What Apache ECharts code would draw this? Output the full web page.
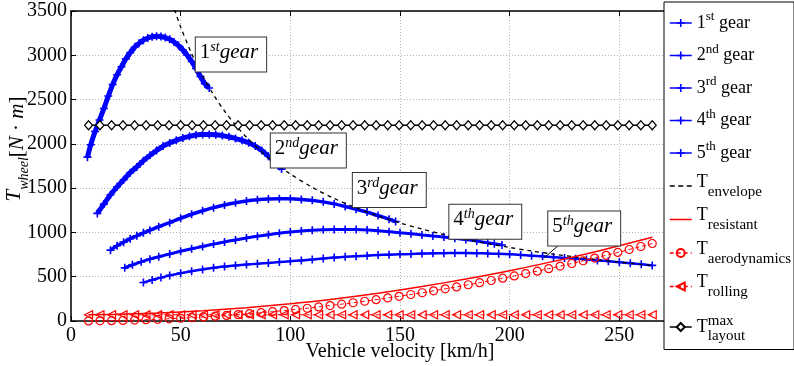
<!DOCTYPE html>
<html>
<head>
<meta charset="utf-8">
<script src="https://cdn.jsdelivr.net/npm/echarts@6/dist/echarts.min.js"></script>
<style>
html, body { margin: 0; padding: 0; background: #fff; }
#draw { width: 794px; height: 366px; }
</style>
</head>
<body>
<div id="draw"></div>
<script>
// wheel torque per gear, [km/h, N.m]
var gear1 = [[7.5,1850],[9,1990],[11,2140],[13,2270],[15,2400],[17,2540],[19,2670],[21,2780],[23,2870],[25,2960],[27,3030],[29,3090],[31,3135],[33,3170],[35,3195],[37,3210],[39,3215],[41,3212],[43,3200],[45,3180],[47,3150],[49,3110],[51,3060],[53,3000],[55,2930],[57,2850],[59,2760],[61,2680],[63,2630]];
var gear2 = [[12,1215],[15,1320],[18,1425],[21,1515],[24,1595],[27,1675],[30,1740],[33,1810],[36,1870],[39,1925],[42,1975],[45,2010],[48,2040],[51,2065],[54,2085],[57,2100],[60,2105],[63,2107],[66,2103],[69,2093],[72,2080],[75,2060],[78,2040],[81,2012],[84,1975],[87,1925],[90,1860],[93,1790],[96,1715]];
var gear3 = [[18,800],[21,850],[24,890],[27,930],[30,962],[33,995],[36,1025],[40,1065],[45,1110],[50,1160],[55,1205],[60,1245],[65,1280],[70,1310],[75,1335],[80,1355],[85,1368],[90,1377],[95,1381],[100,1380],[105,1373],[110,1362],[115,1345],[120,1322],[125,1293],[130,1262],[135,1230],[140,1190],[145,1150],[148,1122]];
var gear4 = [[24.5,600],[28,635],[32,668],[36,698],[40,725],[45,757],[50,787],[55,815],[60,842],[65,868],[70,893],[75,915],[80,937],[85,957],[90,975],[95,991],[100,1004],[105,1015],[110,1024],[115,1030],[120,1033],[125,1034],[130,1032],[135,1027],[140,1019],[145,1009],[150,997],[155,985],[160,972],[165,960],[170,948],[175,934],[180,919],[185,902],[190,884],[193,872],[196.5,858]];
var gear5 = [[33,435],[37,462],[41,490],[45,515],[50,540],[55,562],[60,582],[65,600],[70,614],[75,626],[80,637],[85,647],[90,656],[95,665],[100,674],[105,684],[110,695],[115,706],[120,716],[125,725],[130,732],[135,738],[140,744],[145,749],[150,753],[155,757],[160,761],[165,764],[170,766],[175,767],[180,767],[185,765],[190,762],[195,758],[200,753],[205,746],[210,738],[215,730],[220,721],[225,712],[230,703],[235,694],[240,684],[245,674],[250,664],[255,653],[260,641],[265,628]];
var envelope = [[45,3690],[47.5,3495],[50,3320],[55,3018],[60,2767],[65,2554],[70,2371],[75,2213],[80,2075],[90,1844],[100,1660],[110,1509],[120,1383],[130,1277],[140,1186],[150,1107],[160,1038],[170,976],[180,922],[190,874],[200,830],[210,790],[220,755],[230,722],[240,692],[250,664],[265,626]];

// resistances
var resistSpeed = [8, 20, 40, 60, 80, 100, 120, 140, 160, 180, 200, 220, 240, 265];
var resistTorque = [71, 75, 90, 115, 150, 195, 249, 314, 389, 474, 568, 673, 788, 945];
var speeds = [8, 13.2, 18.5, 23.7, 29, 34.2, 39.5, 44.7, 50, 55.2, 60.4, 65.7, 70.9, 76.2, 81.4, 86.7, 91.9, 97.2, 102.4, 107.7, 112.9, 118.1, 123.4, 128.6, 133.9, 139.1, 144.4, 149.6, 154.9, 160.1, 165.3, 170.6, 175.8, 181.1, 186.3, 191.6, 196.8, 202.1, 207.3, 212.6, 217.8, 223, 228.3, 233.5, 238.8, 244, 249.3, 254.5, 259.8, 265];
var aeroTorque = [1, 2, 4, 7, 10, 15, 19, 25, 31, 38, 46, 54, 63, 72, 83, 94, 105, 118, 131, 144, 159, 174, 190, 206, 223, 241, 260, 279, 299, 319, 341, 363, 385, 409, 433, 457, 483, 509, 536, 563, 591, 620, 649, 680, 710, 742, 774, 807, 841, 875];
var rollingTorque = 70;
var layoutMaxTorque = 2210;

var xTicks = [0, 50, 100, 150, 200, 250, 300];
var yTicks = [0, 500, 1000, 1500, 2000, 2500, 3000, 3500];

var seriesNames = ['1st gear', '2nd gear', '3rd gear', '4th gear', '5th gear',
	'T envelope', 'T resistant', 'T aerodynamics', 'T rolling', 'T layout max'];
var legendText = {
	'1st gear' : '{n|1}{sup|st}{n| gear}',
	'2nd gear' : '{n|2}{sup|nd}{n| gear}',
	'3rd gear' : '{n|3}{sup|rd}{n| gear}',
	'4th gear' : '{n|4}{sup|th}{n| gear}',
	'5th gear' : '{n|5}{sup|th}{n| gear}',
	'T envelope' : '{T|T}{sub|envelope}',
	'T resistant' : '{T|T}{sub|resistant}',
	'T aerodynamics' : '{T|T}{sub|aerodynamics}',
	'T rolling' : '{T|T}{sub|rolling}',
	'T layout max' : '{T2|T}{supz|max}{sub2|layout}'
};

// text boxes, top-left corner in data units
var gearTags = [
	{ num : '1', sup : 'st', at : [56.9, 3202] },
	{ num : '2', sup : 'nd', at : [91.1, 2117] },
	{ num : '3', sup : 'rd', at : [128.5, 1671] },
	{ num : '4', sup : 'th', at : [172.5, 1312] },
	{ num : '5', sup : 'th', at : [217.6, 1236], from : [223, 870], to : [215.7, 712] }
];

var serif = 'Liberation Serif';
var blue = '#0000ff';
var red = '#ff0000';
var plus = 'path://M4,0h2v4h4v2h-4v4h-2v-4h-4v-2h4z';
var dashIcon = 'path://M0,4h5v1.5h-5zM8.5,4h5v1.5h-5zM17,4h5v1.5h-5z';
var solidIcon = 'path://M0,4h22v1.5h-22z';

function pairs(xs, ys) {
	return xs.map(function(x, i) {
		return [x, ys[i]];
	});
}

function gearSeries(name, data, width) {
	return {
		name : name,
		type : 'line',
		data : data,
		smooth : 0.3,
		symbol : plus,
		symbolSize : 8,
		lineStyle : { color : blue, width : width },
		itemStyle : { color : blue },
		z : 3
	};
}

var myChart = echarts.init(document.getElementById('draw'));

var option = {
	animation : false,
	textStyle : { fontFamily : serif, color : '#000' },
	grid : { left : 71, right : 65, top : 11, bottom : 45, containLabel : false, outerBoundsMode : 'none' },
	legend : {
		orient : 'vertical',
		left : 664,
		top : 2,
		itemWidth : 22,
		itemHeight : 10,
		itemGap : 6.5,
		padding : [8, 3, 2, 5],
		backgroundColor : '#fff',
		borderColor : '#000',
		borderWidth : 1,
		data : seriesNames.map(function(n) {
			if (n == 'T envelope') return { name : n, icon : dashIcon };
			if (n == 'T resistant') return { name : n, icon : solidIcon };
			return n;
		}),
		lineStyle : { width : 1.5 },
		formatter : function(name) {
			return legendText[name];
		},
		textStyle : {
			fontFamily : serif,
			color : '#000',
			rich : {
				n : { fontFamily : serif, fontSize : 18, lineHeight : 18, padding : [4, 0, 4, 0] },
				sup : { fontFamily : serif, fontSize : 13, lineHeight : 14, padding : [0, 0, 12, 0] },
				T : { fontFamily : serif, fontSize : 18, lineHeight : 18, padding : [0, 0, 8, 0] },
				sub : { fontFamily : serif, fontSize : 15, lineHeight : 14, padding : [12, 0, 0, 0] },
				T2 : { fontFamily : serif, fontSize : 18, lineHeight : 18, padding : [11, 0, 11, 0] },
				supz : { fontFamily : serif, fontSize : 15, lineHeight : 14, width : 0, padding : [7, 0, 19, 0] },
				sub2 : { fontFamily : serif, fontSize : 15, lineHeight : 14, padding : [22, 0, 4, 0] }
			}
		}
	},
	xAxis : [ {
		type : 'value',
		min : xTicks[0],
		max : xTicks[xTicks.length - 1],
		interval : 50,
		name : 'Vehicle velocity [km/h]',
		nameLocation : 'middle',
		nameGap : 21,
		nameMoveOverlap : false,
		nameTextStyle : { fontFamily : serif, fontSize : 20, color : '#000' },
		axisLine : { lineStyle : { color : '#000', width : 1.5 } },
		axisTick : { inside : true, length : 5, lineStyle : { color : '#000' } },
		axisLabel : { fontFamily : serif, fontSize : 20, color : '#000', margin : 5,
			formatter : function(v) { return String(v); } },
		splitLine : { show : true, lineStyle : { color : '#b4b4b4', type : [1, 2] } }
	}, {
		type : 'value',
		position : 'top',
		min : xTicks[0],
		max : xTicks[xTicks.length - 1],
		interval : 50,
		axisLine : { lineStyle : { color : '#000', width : 1.5 } },
		axisTick : { inside : true, length : 5, lineStyle : { color : '#000' } },
		axisLabel : { show : false },
		splitLine : { show : false }
	} ],
	yAxis : {
		type : 'value',
		min : yTicks[0],
		max : yTicks[yTicks.length - 1],
		interval : 500,
		name : '{t|T}{s|wheel}{r|[}{i|N}{r| · }{i|m}{r|]}',
		nameLocation : 'middle',
		nameRotate : 90,
		nameGap : 43,
		nameMoveOverlap : false,
		nameTextStyle : {
			padding : [0, 0, 0, 34],
			rich : {
				t : { fontFamily : serif, fontStyle : 'italic', fontSize : 21, lineHeight : 21, padding : [0, 0, 6, 0] },
				s : { fontFamily : serif, fontStyle : 'italic', fontSize : 14, lineHeight : 14, padding : [13, 0, 0, 0] },
				r : { fontFamily : serif, fontSize : 21, lineHeight : 21, padding : [3, 0, 3, 0] },
				i : { fontFamily : serif, fontStyle : 'italic', fontSize : 21, lineHeight : 21, padding : [3, 0, 3, 0] }
			}
		},
		axisLine : { show : true, lineStyle : { color : '#000', width : 1.5 } },
		axisTick : { show : true, inside : true, length : 5, lineStyle : { color : '#000' } },
		axisLabel : { fontFamily : serif, fontSize : 20, color : '#000', margin : 4,
			formatter : function(v) { return String(v); } },
		splitLine : { show : true, lineStyle : { color : '#b4b4b4', type : [1, 2] } }
	},
	series : [
		gearSeries('1st gear', gear1, 5),
		gearSeries('2nd gear', gear2, 5),
		gearSeries('3rd gear', gear3, 3.5),
		gearSeries('4th gear', gear4, 3),
		gearSeries('5th gear', gear5, 2.5),
		{
			name : 'T envelope',
			type : 'line',
			data : envelope,
			smooth : 0.3,
			symbol : 'none',
			lineStyle : { color : '#000', width : 1.3, type : [4, 4] },
			itemStyle : { color : '#000' },
			z : 4
		}, {
			name : 'T resistant',
			type : 'line',
			data : pairs(resistSpeed, resistTorque),
			smooth : 0.3,
			symbol : 'none',
			lineStyle : { color : red, width : 1.5 },
			itemStyle : { color : red },
			z : 5
		}, {
			name : 'T aerodynamics',
			type : 'line',
			data : pairs(speeds, aeroTorque),
			symbol : 'circle',
			symbolSize : 8,
			lineStyle : { color : red, width : 1, type : [4, 3] },
			itemStyle : { color : 'rgba(255,255,255,0)', borderColor : red, borderWidth : 1.2 },
			z : 5
		}, {
			name : 'T rolling',
			type : 'line',
			data : speeds.map(function(v) { return [v, rollingTorque]; }),
			symbol : 'triangle',
			symbolRotate : 90,
			symbolSize : 8,
			lineStyle : { color : red, width : 1, type : [4, 3] },
			itemStyle : { color : 'rgba(255,255,255,0)', borderColor : red, borderWidth : 1.2 },
			z : 5
		}, {
			name : 'T layout max',
			type : 'line',
			data : speeds.map(function(v) { return [v, layoutMaxTorque]; }),
			symbol : 'diamond',
			symbolSize : [8, 9],
			lineStyle : { color : '#000', width : 1.5 },
			itemStyle : { color : '#fff', borderColor : '#000', borderWidth : 1.2 },
			z : 6
		}
	]
};
myChart.setOption(option);

// gear text boxes drawn at their data positions
var tagRich = {
	n : { fontFamily : serif, fontSize : 21, lineHeight : 24 },
	s : { fontFamily : serif, fontStyle : 'italic', fontSize : 14, lineHeight : 14, padding : [0, 0, 10, 0] },
	g : { fontFamily : serif, fontStyle : 'italic', fontSize : 21, lineHeight : 24 }
};
var elements = [];
gearTags.forEach(function(t) {
	var p = myChart.convertToPixel({ xAxisIndex : 0, yAxisIndex : 0 }, t.at);
	if (t.from) {
		var a = myChart.convertToPixel({ xAxisIndex : 0, yAxisIndex : 0 }, t.from);
		var b = myChart.convertToPixel({ xAxisIndex : 0, yAxisIndex : 0 }, t.to);
		elements.push({
			type : 'line',
			z : 20,
			shape : { x1 : a[0], y1 : a[1], x2 : b[0], y2 : b[1] },
			style : { stroke : '#000', lineWidth : 1 }
		});
	}
	elements.push({
		type : 'text',
		x : p[0],
		y : p[1],
		z : 21,
		style : {
			text : '{n|' + t.num + '}{s|' + t.sup + '}{g|gear}',
			rich : tagRich,
			fill : '#000',
			align : 'left',
			verticalAlign : 'top',
			backgroundColor : '#fff',
			borderColor : '#333',
			borderWidth : 1,
			padding : [3, 8, 7, 4]
		}
	});
});
myChart.setOption({ graphic : elements });
</script>
</body>
</html>
